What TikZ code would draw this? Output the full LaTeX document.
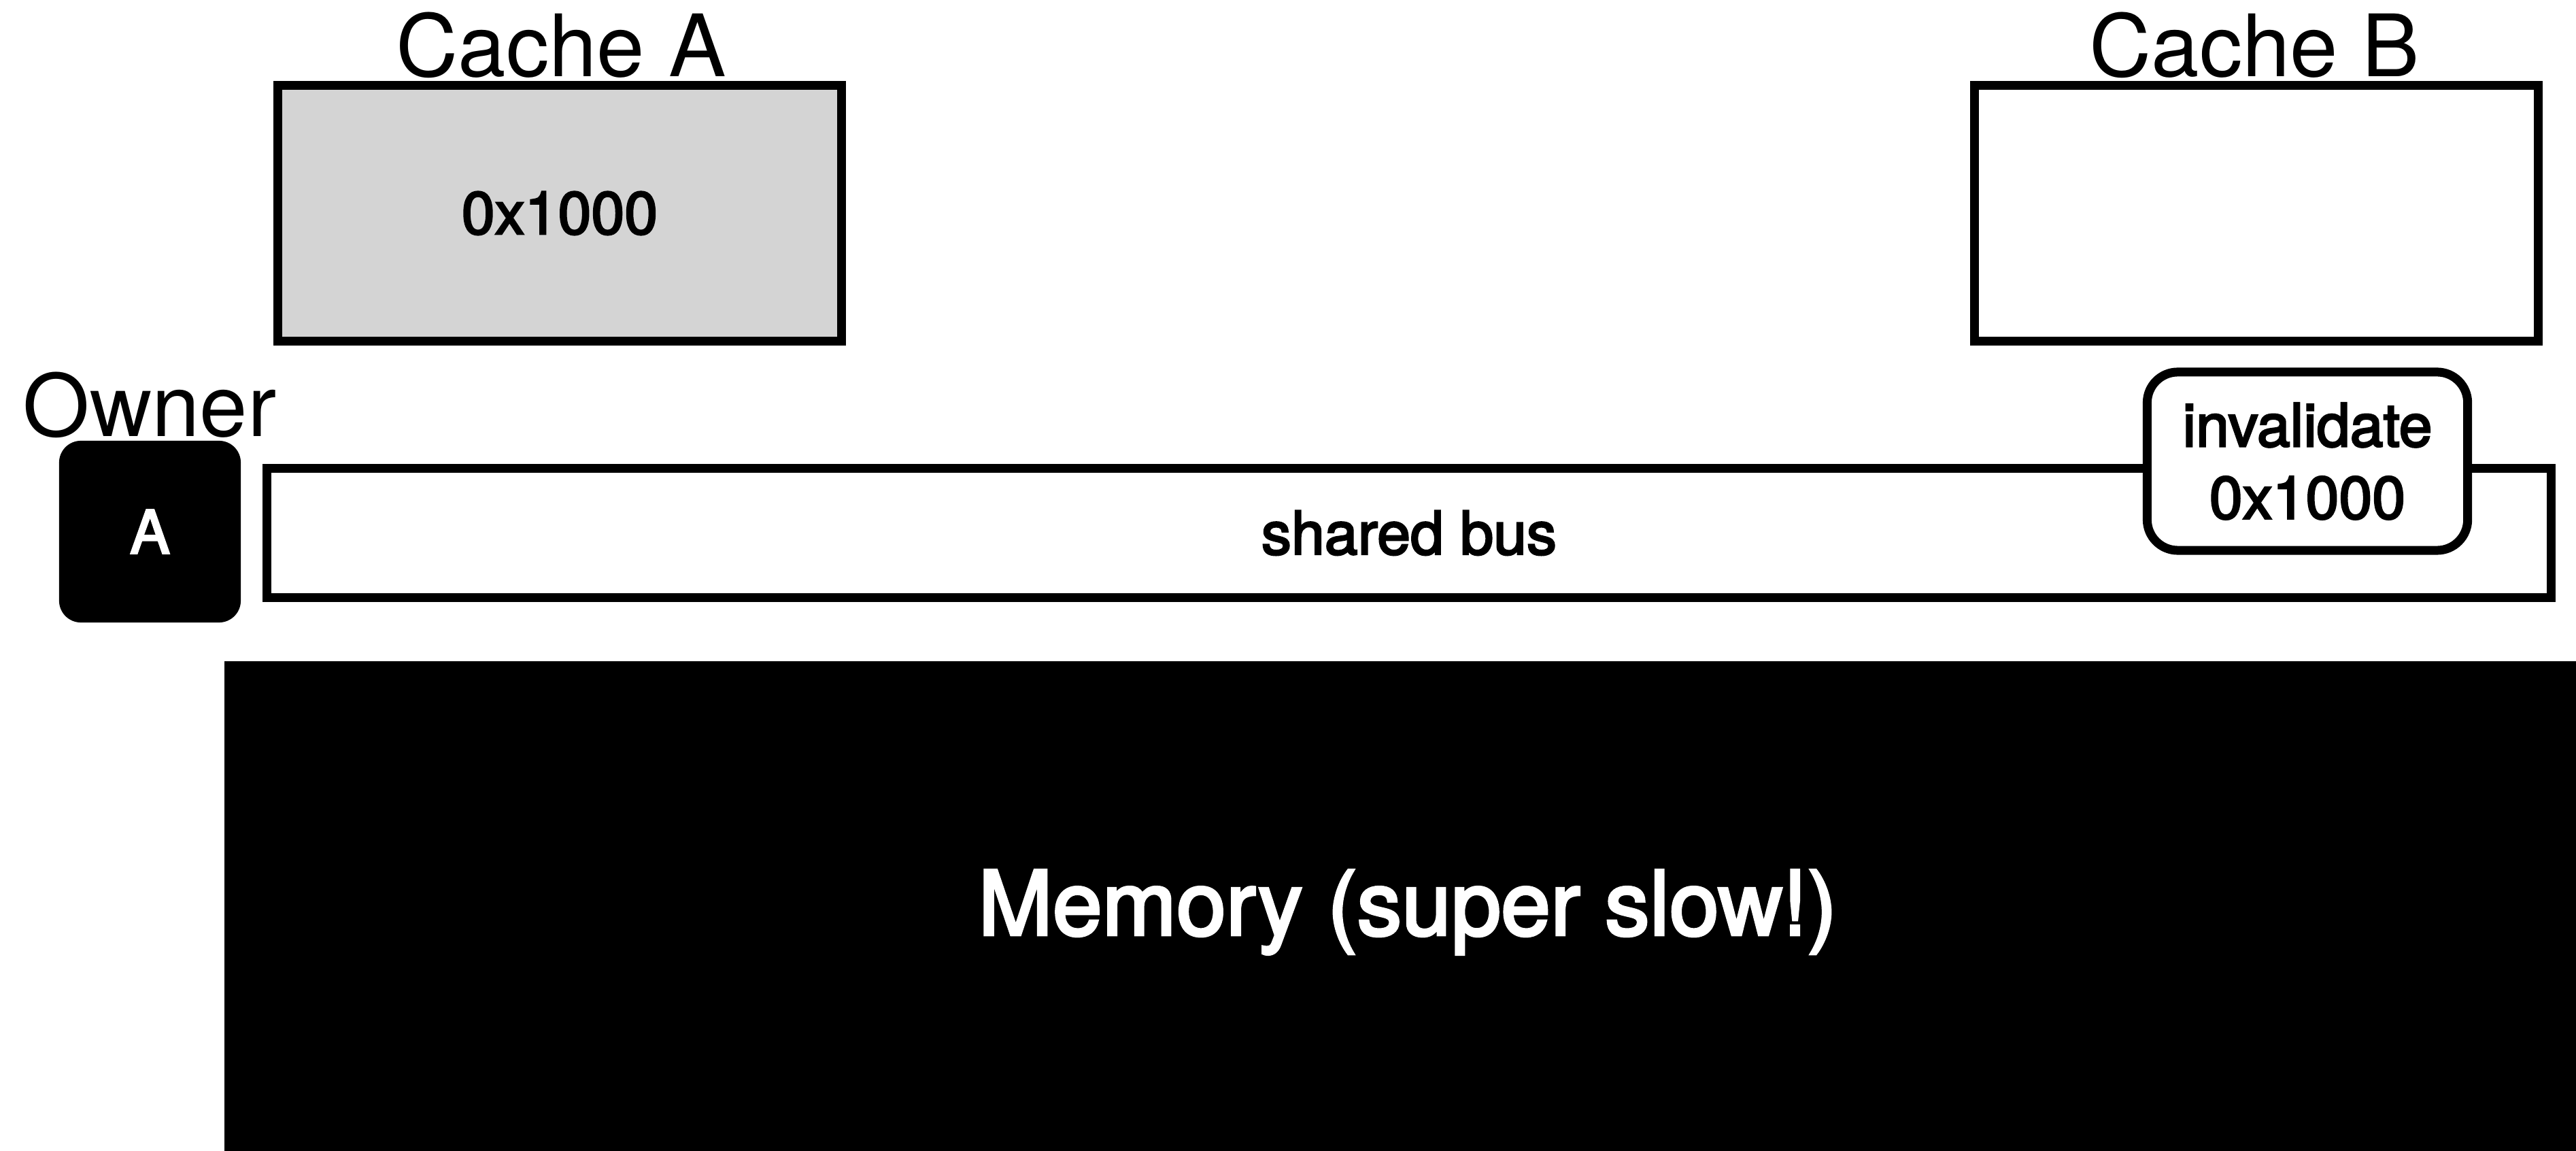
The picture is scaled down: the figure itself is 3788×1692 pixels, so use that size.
\documentclass[tikz,border=0pt]{standalone}
\usepackage{fontspec}
\setmainfont{TeX Gyre Heros}
% medium-weight face for the labels inside the boxes
\newfontfamily\medium{TeX Gyre Heros}[FakeBold=3]
\definecolor{linegray}{RGB}{212,212,212}
\begin{document}
\begin{tikzpicture}[x=0.01cm,y=-0.01cm,
  outline/.style={draw=black, line width=3.7pt, inner sep=0pt, outer sep=0pt},
  cachebox/.style={outline, minimum width=8.29cm, minimum height=3.76cm},
  title/.style={font=\fontsize{36}{43}\selectfont, inner sep=0pt, anchor=base},
  body/.style={font=\medium\fontsize{25}{30.2}\selectfont}
]
\useasboundingbox (0,0) rectangle (3788,1692);

% caches
\node[cachebox, fill=linegray, body] (cacheA) at (823,313.5) {0x1000};
\node[cachebox, fill=white] (cacheB) at (3318,313.5) {};
\node[title] (titleA) at (825,113) {Cache A};
\node[title] (titleB) at (3315,113) {Cache B};

% bus owner
\node[title] (ownerlbl) at (220,642) {Owner};
\node[fill=black, rounded corners=0.32cm, minimum width=2.67cm, minimum height=2.67cm,
      inner sep=0pt, text=white, body] (owner) at (220.5,781.5) {A};

% shared bus with a message on it
\node[outline, fill=white, minimum width=33.57cm, minimum height=1.90cm, body] (bus) at (2072,783.5) {shared bus};
\node[outline, fill=white, rounded corners=0.45cm, minimum width=4.71cm, minimum height=2.62cm,
      align=center, body] (msg) at (3393,678) {invalidate\\0x1000};

% main memory
\node[fill=black, anchor=north west, minimum width=34.59cm, minimum height=7.21cm, inner sep=0pt] (mem) at (329,971) {};
\node[text=white, font=\medium\fontsize{37.3}{44}\selectfont, inner sep=0pt] (memlbl) at (2070,1341) {Memory (super slow!)};
\end{tikzpicture}
\end{document}
